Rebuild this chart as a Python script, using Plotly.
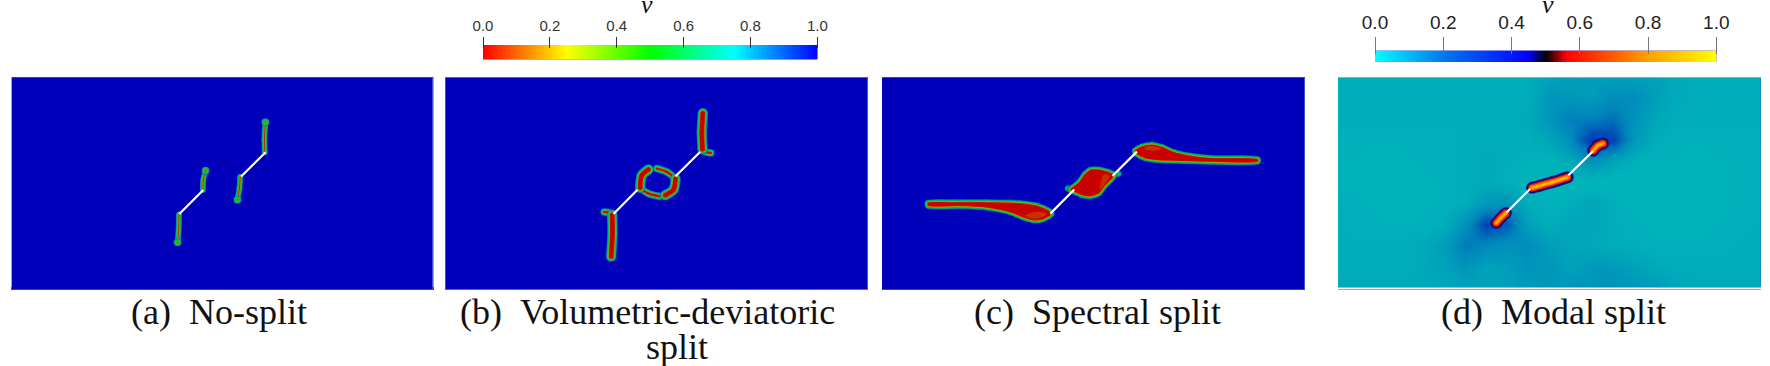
import numpy as np
import plotly.graph_objects as go

W, H = 1770, 366

# the two initial flaws, same in every panel (panel units are 422 x 211)
flaw_lower = [(168, 75), (192, 99)]
flaw_upper = [(230, 112.5), (254.5, 136.7)]

# (a) no-split crack paths
crack_a1 = [(253.7, 136.7), (253.3, 149), (254.3, 166.7)]
crack_a2 = [(229, 112.3), (228.3, 100.7), (226.3, 89.3)]
crack_a3 = [(191.7, 99), (192, 109), (194.3, 118.3)]
crack_a4 = [(167.7, 74.7), (167.3, 59), (166.3, 46.7)]

# (b) volumetric-deviatoric crack paths, thick parts then thin tails
crack_b1 = [(257.3, 175.3), (256.3, 156), (257, 139.3)]
crack_b2 = [(165.7, 32.7), (167, 56), (166.7, 74.3)]
crack_b3 = [(203, 119.3), (196.3, 113.3), (194.7, 101)]
crack_b4 = [(219.7, 93.7), (228, 99.3), (230, 110)]
tail_b1 = [(257, 139.3), (260, 136.8), (265.3, 135.7)]
tail_b2 = [(166.7, 74.3), (163, 76.5), (158.7, 77)]
tail_b3 = [(194.7, 101), (203, 95.3), (213.7, 92.7)]
tail_b4 = [(230, 110), (222, 116.5), (211.3, 120.3)]

# (c) spectral split, outlines of the damaged regions
blob_c1 = [(46.3, 85.3), (71.3, 85.7), (104.7, 85.7), (138, 84.7), (154.7, 82.3),
           (166.3, 77.3), (168.7, 75), (166.3, 73), (159.7, 69.7), (151.3, 69),
           (141.3, 71.7), (128, 77), (104.7, 81.7), (78, 83.3), (46.3, 83.3)]
blob_c2 = [(188.7, 99), (196.3, 105), (203, 114), (208, 118), (216.3, 118.3),
           (224.7, 116.3), (231.3, 113.3), (228, 109), (222, 103), (216.3, 95.7),
           (208, 93), (199.7, 94), (194.7, 96.3)]
blob_c3 = [(253, 137.3), (259.7, 141.3), (269.7, 143), (279.7, 140.7), (291.3, 135.7),
           (308, 132), (328, 129.7), (374.7, 128.7), (374.7, 127.3), (328, 127.3),
           (301.3, 128), (274.7, 129), (263, 130.7), (254.7, 134.7)]
nub_c1 = [(185.3, 100), (190, 100)]
nub_c2 = [(230, 114), (236.3, 114.7)]
# slightly orange zones inside the blobs
tint_c1 = [(164, 75), (160, 71.5), (151, 70.5), (143, 73), (150, 76), (158, 76.5)]
tint_c2 = [(222, 114), (227, 112), (224, 107), (218, 99), (219, 108)]
tint_c3 = [(262, 140.5), (270, 142), (279, 139.5), (272, 138), (264, 138.5)]

# (d) modal split crack paths
crack_d1 = [(254.7, 137.3), (259.3, 142.3), (264.7, 144.6)]
crack_d2 = [(193.7, 100), (202, 102.3), (213.7, 105.6), (229.3, 110.6)]
crack_d3 = [(158, 64.6), (162.7, 70), (167.7, 74.6)]

# (d) coarse reading of the v field around the cracks, top row first
field_x = [21.1 * i for i in range(21)]
field_y = [211 - 21.1 * i for i in range(11)]
field_d = [
    [.20, .20, .20, .20, .20, .20, .20, .20, .20, .20, .23, .24, .24, .24, .24, .23, .21, .20, .20, .20, .20],
    [.20, .20, .20, .20, .20, .20, .20, .20, .20, .20, .26, .26, .25, .28, .28, .24, .21, .20, .20, .20, .20],
    [.20, .20, .20, .20, .20, .20, .20, .20, .20, .21, .26, .31, .31, .33, .27, .22, .20, .20, .20, .20, .20],
    [.19, .19, .19, .19, .19, .19, .20, .20, .20, .20, .22, .28, .42, .40, .25, .20, .19, .19, .19, .19, .19],
    [.19, .18, .18, .18, .19, .19, .20, .21, .20, .19, .18, .21, .27, .22, .19, .18, .18, .18, .18, .19, .19],
    [.19, .18, .17, .17, .18, .19, .20, .21, .19, .17, .16, .17, .17, .17, .17, .17, .17, .17, .18, .19, .19],
    [.20, .19, .18, .18, .18, .19, .20, .25, .27, .20, .18, .20, .22, .20, .18, .18, .18, .18, .18, .19, .19],
    [.20, .19, .19, .19, .19, .20, .27, .40, .36, .23, .20, .22, .22, .20, .19, .18, .18, .18, .19, .19, .20],
    [.20, .20, .20, .20, .21, .24, .32, .29, .27, .28, .24, .22, .21, .20, .20, .19, .19, .19, .19, .20, .20],
    [.20, .20, .20, .20, .21, .23, .26, .23, .24, .27, .26, .23, .25, .25, .23, .21, .20, .20, .20, .20, .20],
    [.21, .21, .21, .21, .21, .22, .23, .22, .23, .25, .26, .26, .27, .27, .26, .25, .22, .21, .21, .21, .21],
]

tick_vals = [0.0, 0.2, 0.4, 0.6, 0.8, 1.0]

# colours
rainbow_bar = [[0, "#ff0000"], [0.25, "#ffff00"], [0.5, "#00ff00"], [0.75, "#00ffff"], [1, "#0000ff"]]
cool_hot_bar = [[0, "#00ffff"], [0.2, "#0078f0"], [0.45, "#0000ff"], [0.5, "#000000"],
                [0.56, "#ff0000"], [0.8, "#ffa000"], [1, "#ffff00"]]
teal_field = [[0, "#00c2bf"], [0.25, "#00aeb9"], [0.5, "#0086bb"], [0.75, "#0040b4"], [1, "#0000a0"]]

thin_band = [(5.8, "#0070c0"), (4.8, "#00b080"), (3.6, "#10c030"), (2, "#90b000"), (0.9, "#c81000")]
tip_band = [(8, "#0070c0"), (6.8, "#00b080"), (5.4, "#10c030"), (2.6, "#90b000"), (1.4, "#c81000")]
wide_band = [(10.5, "#0060c0"), (9.2, "#00b0a0"), (7.8, "#10c040"), (6, "#90b000"), (5, "#c83000"), (4, "#c80000")]
mid_band = [(7.5, "#0060c0"), (6.3, "#00b0a0"), (5, "#10c040"), (3.4, "#90b000"), (2.4, "#c83000"), (1.6, "#c80000")]
edge_band = [(7.2, "#0050c0"), (6.2, "#00a080"), (5, "#00c040"), (3.2, "#70c000"), (2, "#c87000"), (1.2, "#c82000")]
nub_band = [(6, "#0070c0"), (4.5, "#00b0a0"), (3, "#10c040")]
hot_band = [(12, "#0020a8"), (10, "#000070"), (8.5, "#a00010"), (7, "#f02000"), (4.5, "#ff8000"), (1.6, "#ffd000")]
hot_tip = [(12, "#0020a8"), (10, "#000070"), (8.5, "#a00010"), (7, "#f02000"), (4, "#ff9000"), (0.8, "#ffd000")]


def px_x(x):
    return x / W


def px_y(y):
    return 1 - y / H


fig = go.Figure()


def panel(n, left, right, top, bottom, edge):
    fig.update_layout({
        f"xaxis{n}": dict(domain=[px_x(left), px_x(right)], range=[0, 422], showgrid=False, zeroline=False,
                          automargin=False, showticklabels=False, ticks="", showline=True, mirror=True,
                          linecolor=edge, linewidth=1),
        f"yaxis{n}": dict(domain=[px_y(bottom), px_y(top)], range=[0, 211], showgrid=False, zeroline=False,
                          automargin=False, showticklabels=False, ticks="", showline=True, mirror=True,
                          linecolor=edge, linewidth=1),
    })


def stroke(n, path, band):
    x = [p[0] for p in path]
    y = [p[1] for p in path]
    for width, color in band:
        fig.add_trace(go.Scatter(x=x, y=y, xaxis=f"x{n}", yaxis=f"y{n}", mode="lines+markers", showlegend=False,
                                 line=dict(color=color, width=width, shape="spline", smoothing=0.8),
                                 marker=dict(color=color, size=width)))


def patch(n, path, color):
    x = [p[0] for p in path] + [path[0][0]]
    y = [p[1] for p in path] + [path[0][1]]
    fig.add_trace(go.Scatter(x=x, y=y, xaxis=f"x{n}", yaxis=f"y{n}", mode="lines", fill="toself", fillcolor=color,
                             showlegend=False, line=dict(color=color, width=0.5, shape="spline", smoothing=0.8)))


def outline(n, path, band):
    # closed outline, halo strokes first and the red fill on top
    stroke(n, path + path[:1], band)
    patch(n, path, "#c80000")


def flaws(n):
    for flaw in (flaw_lower, flaw_upper):
        fig.add_trace(go.Scatter(x=[p[0] for p in flaw], y=[p[1] for p in flaw], xaxis=f"x{n}", yaxis=f"y{n}",
                                 mode="lines", showlegend=False, line=dict(color="white", width=2.2)))


def colour_bar(n, left, right, top, bottom, scale, tick_top, tick_color, font_size, label_color):
    ramp = np.linspace(0, 1, 256)
    fig.add_trace(go.Heatmap(x=ramp, y=[0, 1], z=[ramp, ramp], colorscale=scale, zmin=0, zmax=1, showscale=False,
                             xaxis=f"x{n}", yaxis=f"y{n}"))
    fig.update_layout({
        f"xaxis{n}": dict(domain=[px_x(left), px_x(right)], range=[0, 1], side="top", anchor="free",
                          position=px_y(top + 3), tickvals=tick_vals, tickformat=".1f", ticks="outside",
                          ticklen=top + 3 - tick_top, tickwidth=1, tickcolor=tick_color, showgrid=False,
                          zeroline=False, automargin=False,
                          tickfont=dict(family="Liberation Sans", size=font_size, color=label_color)),
        f"yaxis{n}": dict(domain=[px_y(bottom), px_y(top)], range=[0, 1], showgrid=False, zeroline=False,
                          automargin=False, showticklabels=False, ticks=""),
    })


# panels, pixel boxes measured on the reference
panel(1, 11.7, 432.7, 78, 289, "#3a3ad0")
panel(2, 445.3, 867.7, 77.3, 289.3, "#5a5ae0")
panel(3, 882, 1304.7, 77, 289, "#3a3ad0")
panel(4, 1338, 1760.7, 77.3, 287.3, "#50ccd0")

for crack in (crack_a1, crack_a2, crack_a3, crack_a4):
    stroke(1, crack, thin_band)
    stroke(1, crack[-1:], tip_band)
flaws(1)

for tail in (tail_b1, tail_b2, tail_b3, tail_b4):
    stroke(2, tail, mid_band)
for crack in (crack_b1, crack_b2, crack_b3, crack_b4):
    stroke(2, crack, wide_band)
flaws(2)

for nub in (nub_c1, nub_c2):
    stroke(3, nub, nub_band)
for blob in (blob_c1, blob_c2, blob_c3):
    outline(3, blob, edge_band)
for tint in (tint_c1, tint_c2, tint_c3):
    patch(3, tint, "#c83000")
flaws(3)

fig.add_trace(go.Heatmap(x=field_x, y=field_y, z=field_d, colorscale=teal_field, zmin=0.1, zmax=0.5, zsmooth="best",
                         showscale=False, xaxis="x4", yaxis="y4"))
stroke(4, crack_d1, hot_tip)
stroke(4, crack_d3, hot_tip)
stroke(4, crack_d2, hot_band)
flaws(4)

colour_bar(5, 483, 817.3, 45, 59.3, rainbow_bar, 36.7, "#333333", 15, "#333333")
colour_bar(6, 1375, 1716.3, 50.7, 62, cool_hot_bar, 36.7, "#777777", 19, "#222222")

captions = [
    ("(a)\u2002No-split", 219, 312),
    ("(b)\u2002Volumetric-deviatoric", 647, 312),
    ("split", 677, 347),
    ("(c)\u2002Spectral split", 1097, 312),
    ("(d)\u2002Modal split", 1553.5, 312),
    ("<i>v</i>", 647, 4),
    ("<i>v</i>", 1548, 4),
]
for text, x, y in captions:
    fig.add_annotation(text=text, x=px_x(x), y=px_y(y), xref="paper", yref="paper", showarrow=False,
                       xanchor="center", yanchor="middle",
                       font=dict(family="Liberation Serif", size=36 if y > 100 else 26, color="#111111"))

fig.update_layout(width=W, height=H, margin=dict(l=0, r=0, t=0, b=0), autosize=False,
                  paper_bgcolor="white", plot_bgcolor="#0000bb", showlegend=False)

fig.write_html("out.html", post_script="document.body.style.margin='0';", config={"displayModeBar": False})
